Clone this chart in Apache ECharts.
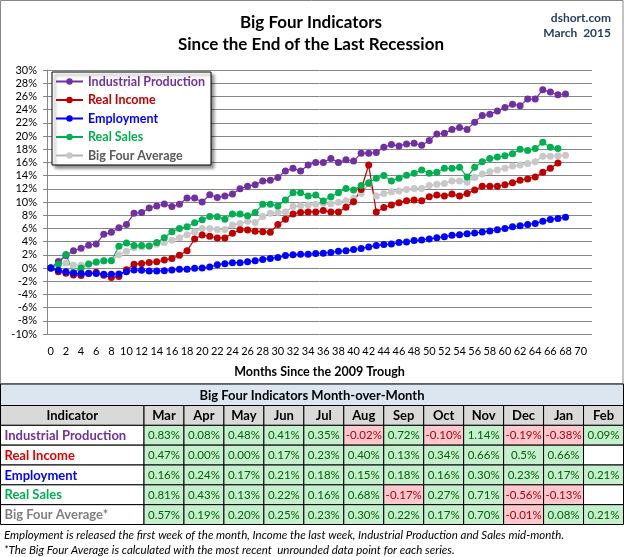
<!DOCTYPE html>
<html><head><meta charset="utf-8">
<script src="https://cdn.jsdelivr.net/npm/echarts@6/dist/echarts.min.js"></script>
<style>html,body{margin:0;padding:0;background:#fff}#c{width:624px;height:557px}</style>
</head><body><div id="c"></div>
<script>
// ---------- chart data ----------
const months = ['0','1','2','3','4','5','6','7','8','9','10','11','12','13','14','15','16','17','18','19','20','21','22','23','24','25','26','27','28','29','30','31','32','33','34','35','36','37','38','39','40','41','42','43','44','45','46','47','48','49','50','51','52','53','54','55','56','57','58','59','60','61','62','63','64','65','66','67','68','69','70','71'];
const yTicksPct = [-10, 30, 2]; // min, max, step of the % axis
const industrialProduction = [0,1.0,1.9,2.6,3.0,3.45,3.65,5.1,5.4,6.1,6.6,8.3,8.4,9.1,9.4,9.7,9.3,9.65,10.6,10.6,10.0,11.1,10.7,10.9,11.2,12.0,12.4,12.6,13.2,13.3,13.7,14.7,15.1,14.7,15.6,16.0,16.0,16.6,16.0,16.4,16.2,17.4,17.4,17.5,18.3,18.7,18.5,18.8,18.9,18.6,19.3,20.3,20.4,21.0,21.3,21.0,22.1,23.1,23.3,23.8,24.3,24.8,24.6,25.6,25.6,27.0,26.65,26.25,26.35];
const realIncome = [0,-0.55,-0.8,-1.05,-1.15,-0.85,-0.65,-1.1,-1.45,-1.3,-0.25,0.55,0.7,0.85,0.95,1.2,1.45,1.95,2.6,4.4,5.0,4.8,4.55,4.55,5.25,5.8,5.75,5.55,5.5,5.4,6.6,7.4,8.2,8.4,8.5,8.5,8.7,8.5,8.5,9.2,10.05,11.9,15.6,8.5,9.15,9.55,9.9,10.2,10.3,10.2,10.8,11.05,10.9,11.2,10.9,11.3,11.8,12.4,12.4,12.4,12.6,12.9,13.3,13.5,13.8,14.5,15.1,15.9];
const employment = [0,-0.35,-0.55,-0.8,-0.85,-0.8,-0.85,-0.95,-0.95,-0.9,-0.55,-0.3,-0.35,-0.45,-0.45,-0.4,-0.3,-0.2,-0.2,-0.05,0.0,0.15,0.5,0.65,0.8,0.8,0.95,1.1,1.3,1.45,1.6,1.9,2.0,2.1,2.1,2.2,2.25,2.35,2.55,2.6,2.8,2.95,3.2,3.4,3.55,3.65,3.85,3.95,4.15,4.25,4.4,4.6,4.75,4.95,5.05,5.2,5.3,5.45,5.6,5.8,6.0,6.25,6.4,6.6,6.75,7.1,7.35,7.5,7.7];
const realSales = [0,0.6,2.05,-0.7,0.0,0.6,0.9,1.1,1.1,3.3,3.8,3.4,3.4,3.35,3.85,4.6,5.5,6.0,6.25,6.85,7.3,7.8,7.75,7.4,8.2,8.2,7.9,8.4,9.65,9.65,9.4,10.3,11.4,11.4,10.9,11.05,10.15,10.8,11.4,12.05,11.8,12.5,12.9,13.6,14.0,13.2,13.6,14.05,14.35,14.85,14.35,14.5,15.1,15.1,15.25,13.8,15.25,16.1,16.6,16.8,17.0,17.3,18.0,17.8,18.1,19.05,18.3,18.1];
const bigFourAverage = [0,0.6,0.75,0.4,0.45,0.6,0.85,1.05,1.2,2.0,2.55,3.05,3.2,3.35,3.6,3.85,4.2,4.6,5.05,5.5,6.0,6.0,5.85,5.85,6.5,6.75,7.1,6.9,7.8,8.3,8.4,8.5,9.3,9.45,9.55,9.65,9.8,9.75,9.95,10.2,10.55,11.3,12.8,10.9,11.3,11.55,11.65,11.9,12.05,12.05,12.5,12.7,12.8,13.2,13.2,13.0,13.7,14.25,14.6,14.85,15.1,15.45,15.6,15.85,16.1,16.95,16.95,17.0,17.1];

// ---------- table data ----------
const tableMonths = ['Mar','Apr','May','Jun','Jul','Aug','Sep','Oct','Nov','Dec','Jan','Feb'];
const indicatorNames = ['Industrial Production','Real Income','Employment','Real Sales','Big Four Average*'];
const momIndustrialProduction = ['0.83%','0.08%','0.48%','0.41%','0.35%','-0.02%','0.72%','-0.10%','1.14%','-0.19%','-0.38%','0.09%'];
const momRealIncome = ['0.47%','0.00%','0.00%','0.17%','0.23%','0.40%','0.13%','0.34%','0.66%','0.5%','0.66%',''];
const momEmployment = ['0.16%','0.24%','0.17%','0.21%','0.18%','0.15%','0.18%','0.16%','0.30%','0.23%','0.17%','0.21%'];
const momRealSales = ['0.81%','0.43%','0.13%','0.22%','0.16%','0.68%','-0.17%','0.27%','0.71%','-0.56%','-0.13%',''];
const momBigFourAverage = ['0.57%','0.19%','0.20%','0.25%','0.23%','0.30%','0.22%','0.17%','0.70%','-0.01%','0.08%','0.21%'];

// ---------- styles ----------
const FONT = 'Lato';
const COLORS = {ip:'#7030A0', ri:'#C00000', emp:'#0000FF', rs:'#00B050', avg:'#C8C8C8'};
const NAME_COLORS = ['#7030A0','#E00000','#0000FF','#00B050','#7F7F7F'];
const AVG_HIGHLIGHT = 42;
const GRIDC = '#868686';

const momRows = [momIndustrialProduction, momRealIncome, momEmployment, momRealSales, momBigFourAverage];
const rowCats = ['h','r0','r1','r2','r3','r4'];

// table cells (built from named arrays)
const valueCells = [];
tableMonths.forEach((m, ci) => valueCells.push({col: ci, row: 0, text: m, kind: 'header'}));
momRows.forEach((arr, ri) => arr.forEach((t, ci) => {
  const kind = t === '' ? 'empty' : (parseFloat(t) < 0 ? 'neg' : 'pos');
  valueCells.push({col: ci, row: ri + 1, text: t, kind});
}));
const nameCells = [{col:0,row:0,text:'Indicator',kind:'header'}];
indicatorNames.forEach((n, ri) => nameCells.push({col:0,row:ri+1,text:n,kind:'name',color:NAME_COLORS[ri]}));

function cellRender(cells) {
  return function (params, api) {
    const cell = cells[params.dataIndex];
    const c = api.coord([api.value(0), api.value(1)]);
    const s = api.size([1, 1]);
    const x = c[0] - s[0] / 2, y = c[1] - s[1] / 2;
    let fill = '#ffffff', tcolor = '#000', font = '11.5px ' + FONT, align = 'center', tx = c[0];
    if (cell.kind === 'header') { fill = '#D9D9D9'; font = 'bold 13px ' + FONT; }
    else if (cell.kind === 'pos') { fill = '#C6EFCE'; tcolor = '#006100'; }
    else if (cell.kind === 'neg') { fill = '#FFC7CE'; tcolor = '#9C0006'; }
    else if (cell.kind === 'name') { tcolor = cell.color; font = 'bold 13px ' + FONT; align = 'left'; tx = x + 4; }
    return {type:'group', children:[
      {type:'rect', shape:{x:x, y:y, width:s[0], height:s[1]}, style:{fill:fill, stroke:'#000', lineWidth:1}},
      {type:'text', style:{text:cell.text, x:tx, y:c[1] + 0.5, align:align, verticalAlign:'middle', fill:tcolor, font:font}}
    ]};
  };
}

function lineSeries(name, data, color, lineColor) {
  return {
    name, type:'line', data, xAxisIndex:0, yAxisIndex:0,
    symbol:'circle', symbolSize:7, showSymbol:true, showAllSymbol:true,
    itemStyle:{color:color, borderWidth:0},
    lineStyle:{color:lineColor || color, width:1.2},
    emphasis:{disabled:true}, animation:false
  };
}

const avgData = bigFourAverage.map((v, i) => i === AVG_HIGHLIGHT ? {value:v, itemStyle:{color:'#B5605C'}} : v);

const chart = echarts.init(document.getElementById('c'), null, {renderer:'canvas'});
chart.setOption({
  animation:false,
  backgroundColor:'#ffffff',
  textStyle:{fontFamily:FONT},
  graphic:[
    {type:'rect', shape:{x:0.5, y:0.5, width:622.5, height:383.5}, style:{fill:'none', stroke:GRIDC, lineWidth:1}, silent:true},
    {type:'text', style:{text:'Big Four Indicators', x:311, y:23, align:'center', verticalAlign:'middle', font:'bold 17px ' + FONT, fill:'#000'}},
    {type:'text', style:{text:'Since the End of the Last Recession', x:311, y:45, align:'center', verticalAlign:'middle', font:'bold 17px ' + FONT, fill:'#000'}},
    {type:'text', style:{text:'dshort.com', x:611, y:18, align:'right', verticalAlign:'middle', font:'bold 12px ' + FONT, fill:'#243F60'}},
    {type:'text', style:{text:'March  2015', x:611, y:33.5, align:'right', verticalAlign:'middle', font:'bold 12px ' + FONT, fill:'#243F60'}},
    {type:'rect', shape:{x:0.5, y:384, width:623, height:21.5}, style:{fill:'#DCE6F1', stroke:'#000', lineWidth:1}},
    {type:'text', style:{text:'Big Four Indicators Month-over-Month', x:312, y:395.5, align:'center', verticalAlign:'middle', font:'bold 13px ' + FONT, fill:'#000'}},
    {type:'text', style:{text:'Employment is released the first week of the month, Income the last week, Industrial Production and Sales mid-month.', x:4, y:535.5, align:'left', verticalAlign:'middle', font:'italic 11.5px ' + FONT, fill:'#000'}},
    {type:'text', style:{text:'*The Big Four Average is calculated with the most recent  unrounded data point for each series.', x:4, y:550, align:'left', verticalAlign:'middle', font:'italic 11.5px ' + FONT, fill:'#000'}}
  ],
  legend:{
    orient:'vertical', left:52, top:72,
    padding:[3,6,3,3], itemGap:5.5, itemWidth:27, itemHeight:8,
    backgroundColor:'#fff', borderColor:'#000', borderWidth:1,
    shadowColor:'rgba(0,0,0,0.45)', shadowBlur:3, shadowOffsetX:3, shadowOffsetY:3,
    textStyle:{fontSize:12.5, fontWeight:'bold', fontFamily:FONT},
    data:[
      {name:'Industrial Production', textStyle:{color:'#7030A0'}},
      {name:'Real Income', textStyle:{color:'#C00000'}},
      {name:'Employment', textStyle:{color:'#0000FF'}},
      {name:'Real Sales', textStyle:{color:'#00B050'}},
      {name:'Big Four Average', textStyle:{color:'#595959'}}
    ],
    selectedMode:false
  },
  grid:[
    {left:47, right:32, top:70, bottom:223, containLabel:false},
    {left:0.5, top:405.5, width:143.5, height:119},
    {left:144, top:405.5, width:479.5, height:119}
  ],
  xAxis:[
    {type:'category', gridIndex:0, data:months, boundaryGap:true,
      axisLine:{show:false}, axisTick:{show:false},
      axisLabel:{interval:1, fontSize:11, color:'#000', margin:12, fontFamily:FONT},
      name:'Months Since the 2009 Trough', nameLocation:'middle', nameGap:31,
      nameTextStyle:{fontWeight:'bold', fontSize:12.5, color:'#000', fontFamily:FONT}},
    {type:'category', gridIndex:1, data:['Indicator'], show:false},
    {type:'category', gridIndex:2, data:tableMonths, show:false}
  ],
  yAxis:[
    {type:'value', gridIndex:0, min:yTicksPct[0], max:yTicksPct[1], interval:yTicksPct[2],
      axisLine:{show:true, lineStyle:{color:GRIDC}},
      axisTick:{show:true, length:4, lineStyle:{color:GRIDC}},
      splitLine:{show:true, lineStyle:{color:GRIDC, width:1}},
      axisLabel:{formatter:'{value}%', fontSize:11, color:'#000', margin:10, fontFamily:FONT}},
    {type:'category', gridIndex:1, data:rowCats, inverse:true, show:false},
    {type:'category', gridIndex:2, data:rowCats, inverse:true, show:false}
  ],
  series:[
    lineSeries('Big Four Average', avgData, COLORS.avg, '#B4B4B4'),
    lineSeries('Industrial Production', industrialProduction, COLORS.ip),
    lineSeries('Real Income', realIncome, COLORS.ri),
    lineSeries('Real Sales', realSales, COLORS.rs),
    lineSeries('Employment', employment, COLORS.emp),
    {type:'custom', xAxisIndex:1, yAxisIndex:1, renderItem:cellRender(nameCells),
      data:nameCells.map(c => [c.col, c.row]), silent:true, animation:false, clip:false},
    {type:'custom', xAxisIndex:2, yAxisIndex:2, renderItem:cellRender(valueCells),
      data:valueCells.map(c => [c.col, c.row]), silent:true, animation:false, clip:false}
  ]
});
</script>
</body></html>
